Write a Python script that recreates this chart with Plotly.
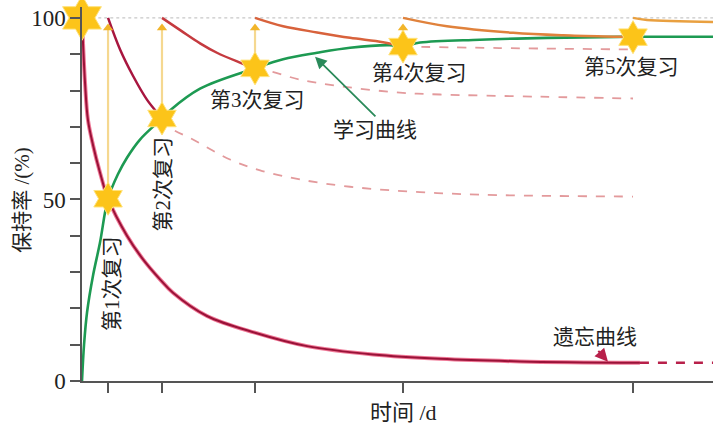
import plotly.graph_objects as go

# ---------------- data ----------------
review_times = [1.28, 3.93, 8.5, 15.77, 27.07]
review_labels = ["第1次复习", "第2次复习", "第3次复习", "第4次复习", "第5次复习"]
star_t = [0.0, 1.28, 3.93, 8.5, 15.77, 27.07]
star_v = [100, 50.2, 72.3, 86.1, 92.1, 94.7]

forget_t = [0, 0.05, 0.15, 0.29, 0.54, 0.88, 1.28, 2.21, 3.0, 3.83, 4.47, 6.14, 8.5, 11.06, 14.3, 17.59, 21.52, 27.41]
forget_v = [100, 93, 82, 72, 65, 57.5, 50.2, 40, 33.5, 28, 24.3, 17.9, 13.3, 9.6, 7.3, 6.1, 5.4, 5.0]
forget_dash_t = [27.41, 31]
forget_dash_v = [5.0, 5.0]

learn_t = [0, 0.1, 0.25, 0.54, 0.88, 1.28, 1.77, 2.21, 2.85, 3.93, 4.32, 5.8, 8.5, 9.88, 11.55, 13.17, 15.13, 15.77, 16.61, 19.55, 22.85, 26.78, 31]
learn_v = [0, 10, 19, 29, 38, 50.2, 57, 61.5, 66.5, 72.3, 74.5, 80.5, 86.1, 88.6, 90.4, 91.8, 92.5, 92.1, 93.2, 94.0, 94.5, 94.8, 94.8]

seg_t = [
    [1.28, 1.87, 2.51, 3.19, 3.68, 3.93],
    [3.93, 4.86, 5.8, 6.63, 7.76, 8.5],
    [8.5, 9.88, 11.55, 13.17, 14.79, 15.77],
    [15.77, 17.93, 21.18, 23.63, 26.43, 27.07],
    [27.07, 27.76, 31],
]
seg_v = [
    [100, 91.3, 84, 77.5, 74, 72.3],
    [100, 96.5, 93, 90.4, 87.7, 86.1],
    [100, 97.7, 96, 94.5, 93.3, 92.1],
    [100, 97.7, 95.9, 95.2, 94.8, 94.7],
    [100, 99.4, 98.9],
]
seg_colors = ["#a8163f", "#c53a3f", "#d8623c", "#e0823c", "#e9a040"]

dash_t = [
    [3.93, 4.32, 5.45, 7.27, 8.75, 10.71, 13.17, 16.6, 20.5, 27.07],
    [8.5, 9.24, 10.71, 12.68, 15.62, 17.59, 22.5, 27.07],
    [15.77, 20.5, 27.07],
]
dash_v = [
    [72.3, 69.8, 66.5, 61, 58, 55.5, 53.5, 52, 51.2, 50.8],
    [86.1, 85.3, 83, 81.2, 79.4, 78.9, 78.3, 77.8],
    [92.1, 91.7, 91.3],
]

y_tickvals = [0, 10, 20, 30, 40, 50, 60, 70, 80, 90, 100]
y_ticktext = ["0", "", "", "", "", "50", "", "", "", "", "100"]

# ---------------- figure ----------------
fig = go.Figure()

fig.add_trace(go.Scatter(x=[0.8, 31], y=[100, 100], mode="lines",
                         line=dict(color="#c8c8c8", width=1.2, dash="dot"), hoverinfo="skip"))

for tt, vv in zip(dash_t, dash_v):
    fig.add_trace(go.Scatter(x=tt, y=vv, mode="lines", line_shape="spline",
                             line=dict(color="#e39a9c", width=1.8, dash="dash"), hoverinfo="skip"))

fig.add_trace(go.Scatter(x=forget_t, y=forget_v, mode="lines", line_shape="spline",
                         line=dict(color="#f07a98", width=4), hoverinfo="skip"))
fig.add_trace(go.Scatter(x=forget_t, y=forget_v, mode="lines", line_shape="spline",
                         line=dict(color="#9a1238", width=2), hoverinfo="skip"))
fig.add_trace(go.Scatter(x=forget_dash_t, y=forget_dash_v, mode="lines",
                         line=dict(color="#b8204a", width=2.5, dash="dash"), hoverinfo="skip"))

fig.add_trace(go.Scatter(x=learn_t, y=learn_v, mode="lines", line_shape="spline",
                         line=dict(color="#1d9a52", width=2.6), hoverinfo="skip"))

for tt, vv, c in zip(seg_t, seg_v, seg_colors):
    fig.add_trace(go.Scatter(x=tt, y=vv, mode="lines", line_shape="spline",
                             line=dict(color=c, width=2.5), hoverinfo="skip"))

for t, v in zip(star_t[1:], star_v[1:]):
    fig.add_trace(go.Scatter(x=[t, t], y=[v, 97.5], mode="lines",
                             line=dict(color="#f5d890", width=2.2), hoverinfo="skip"))
fig.add_trace(go.Scatter(x=star_t[1:], y=[97.2] * len(star_t[1:]), mode="markers",
                         marker=dict(symbol="triangle-up", size=9, color="#f2b52a"),
                         cliponaxis=False, hoverinfo="skip"))

fig.add_trace(go.Scatter(x=star_t[:1], y=star_v[:1], mode="markers", cliponaxis=False,
                         marker=dict(symbol="hexagram", size=34, color="#fcc419",
                                     line=dict(color="#ffe27a", width=1)), hoverinfo="skip"))
fig.add_trace(go.Scatter(x=star_t[1:], y=star_v[1:], mode="markers", cliponaxis=False,
                         marker=dict(symbol="hexagram", size=25, color="#fcc419",
                                     line=dict(color="#ffe27a", width=1)), hoverinfo="skip"))

font_cjk = "Liberation Serif, Noto Sans CJK SC"
txt_col = "#222222"
fs = 21

label_pos = [(1.47, 27.0, -90), (3.98, 54.1, -90), (8.6, 77.4, 0), (16.56, 84.8, 0), (27.02, 86.5, 0)]
for lab, (x, y, ang) in zip(review_labels, label_pos):
    fig.add_annotation(x=x, y=y, text=lab, showarrow=False, textangle=ang,
                       font=dict(family=font_cjk, size=fs, color=txt_col))

fig.add_annotation(x=11.45, y=89.3, ax=14.49, ay=72.5, axref="x", ayref="y",
                   text="", showarrow=True, arrowhead=2, arrowsize=1.3, arrowwidth=1.8,
                   arrowcolor="#2a8a5a")
fig.add_annotation(x=14.39, y=69.1, text="学习曲线", showarrow=False,
                   font=dict(family=font_cjk, size=fs, color=txt_col))
fig.add_annotation(x=25.84, y=5.3, ax=25.3, ay=8.7, axref="x", ayref="y",
                   text="", showarrow=True, arrowhead=2, arrowsize=1.3, arrowwidth=2,
                   arrowcolor="#b8204a")
fig.add_annotation(x=25.2, y=12.1, text="遗忘曲线", showarrow=False,
                   font=dict(family=font_cjk, size=fs, color=txt_col))

# axis titles (paper coordinates)
fig.add_annotation(x=0.51, y=-0.085, xref="paper", yref="paper", text="时间 /d",
                   xanchor="center", yanchor="middle",
                   showarrow=False, font=dict(family=font_cjk, size=22, color=txt_col))
fig.add_annotation(x=-0.095, y=0.4845, xref="paper", yref="paper", text="保持率 /(%)",
                   xanchor="center", yanchor="middle",
                   showarrow=False, textangle=-90,
                   font=dict(family=font_cjk, size=fs, color=txt_col))

fig.update_layout(
    width=720, height=427,
    margin=dict(l=82, r=7, t=7, b=46),
    paper_bgcolor="white", plot_bgcolor="white",
    showlegend=False,
    xaxis=dict(range=[0, 31], showline=True, linecolor="#555555", linewidth=1.5,
               ticks="outside", ticklen=10, tickwidth=1.5, tickcolor="#555555",
               tickvals=review_times, showticklabels=False,
               showgrid=False, zeroline=False),
    yaxis=dict(range=[0, 103], showline=True, linecolor="#555555", linewidth=1.5,
               ticks="outside", ticklen=10, tickwidth=1.5, tickcolor="#555555",
               tickvals=y_tickvals, ticktext=y_ticktext,
               tickfont=dict(family="Liberation Serif", size=23, color=txt_col),
               showgrid=False, zeroline=False),
)

fig.write_html("out.html")
